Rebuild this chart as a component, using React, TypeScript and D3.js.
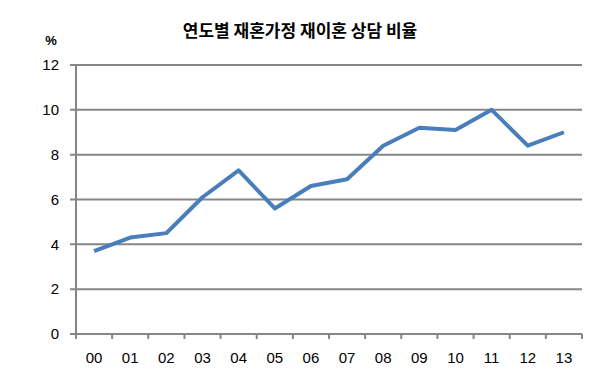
import React from "react";
import * as d3 from "d3";

const title = "연도별 재혼가정 재이혼 상담 비율";
const unitLabel = "%";
const years = ["00", "01", "02", "03", "04", "05", "06", "07", "08", "09", "10", "11", "12", "13"];
const rates = [3.7, 4.3, 4.5, 6.1, 7.3, 5.6, 6.6, 6.9, 8.4, 9.2, 9.1, 10.0, 8.4, 9.0];
const yTicks = [0, 2, 4, 6, 8, 10, 12];

const W = 600;
const H = 378;
const left = 76;
const right = 582;
const top = 65;
const bottom = 334;

export default function App() {
  const x = d3.scaleBand<string>().domain(years).range([left, right]).padding(0);
  const y = d3.scaleLinear().domain([0, 12]).range([bottom, top]);
  const line = d3
    .line<number>()
    .x((_, i) => (x(years[i]) as number) + x.bandwidth() / 2)
    .y((d) => y(d));
  const grid = "#868686";
  const font = "'Liberation Sans', Arial, sans-serif";
  const boundaries = years.map((yr) => x(yr) as number).concat([right]);

  return (
    <svg
      width={W}
      height={H}
      style={{ position: "absolute", left: 0, top: 0, background: "#fff" }}
    >
      <text
        x={300}
        y={37}
        textAnchor="middle"
        fontFamily="'Noto Sans CJK KR', sans-serif"
        fontWeight="bold"
        fontSize={17}
        fill="#000"
      >
        {title}
      </text>
      <text x={51} y={45} textAnchor="middle" fontFamily={font} fontWeight="bold" fontSize={13} fill="#000">
        {unitLabel}
      </text>
      {yTicks.map((t) => (
        <g key={t}>
          <line x1={70} x2={right} y1={y(t)} y2={y(t)} stroke={grid} strokeWidth={2} />
          <text
            x={59}
            y={y(t)}
            dy="0.35em"
            textAnchor="end"
            fontFamily={font}
            fontSize={15}
            fill="#000"
          >
            {t}
          </text>
        </g>
      ))}
      <line x1={left} x2={left} y1={top} y2={bottom} stroke={grid} strokeWidth={2} />
      {boundaries.map((bx, i) => (
        <line key={i} x1={bx} x2={bx} y1={bottom} y2={bottom + 5} stroke={grid} strokeWidth={2} />
      ))}
      {years.map((yr) => (
        <text
          key={yr}
          x={(x(yr) as number) + x.bandwidth() / 2}
          y={358}
          dy="0.35em"
          textAnchor="middle"
          fontFamily={font}
          fontSize={15}
          fill="#000"
        >
          {yr}
        </text>
      ))}
      <path
        d={line(rates) || ""}
        fill="none"
        stroke="#4a7ebb"
        strokeWidth={4}
        strokeLinejoin="round"
        strokeLinecap="butt"
      />
    </svg>
  );
}
